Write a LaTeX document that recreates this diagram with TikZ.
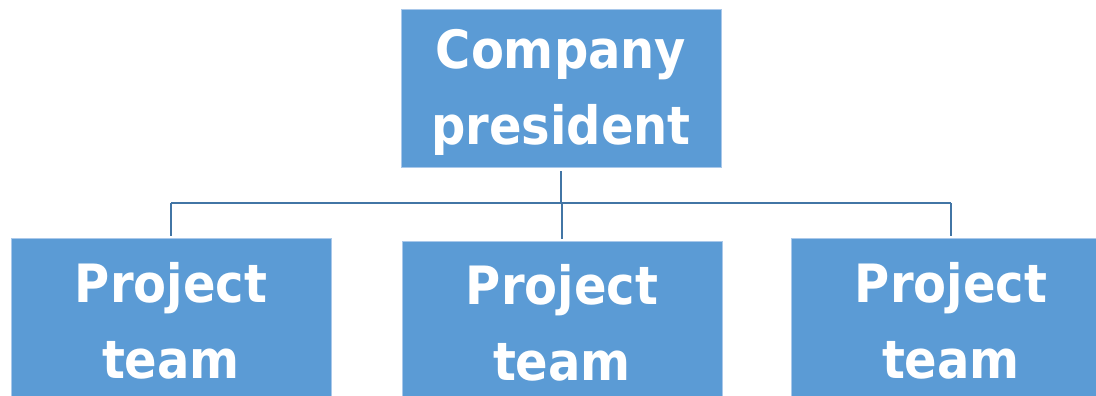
\documentclass[tikz,border=0pt]{standalone}
\usepackage{fontspec}
\setmainfont{DejaVu Sans}
\definecolor{boxblue}{HTML}{5B9BD5}
\definecolor{boxedge}{HTML}{A9C8EA}
\definecolor{linkblue}{HTML}{4275A5}
% slightly taller lettering
\newcommand\tallline[1]{\scalebox{1}[1.1]{#1}}
\tikzset{
  orgbox/.style={rectangle, fill=boxblue, draw=boxedge, line width=0.8pt,
    minimum width=320pt, inner sep=0pt},
  orgtext/.style={align=center, text=white, inner sep=0pt, yshift=-4pt,
    font=\fontsize{48}{76}\selectfont\bfseries},
  link/.style={draw=linkblue, line width=2.2pt}
}
\begin{document}
\begin{tikzpicture}[x=1pt,y=1pt]
  \useasboundingbox (0,0) rectangle (1096,-396);
  \clip (0,0) rectangle (1096,-396);
  % boxes with their captions
  \node[orgbox, minimum height=158pt,
    label={[orgtext]center:\tallline{Company}\\\tallline{president}}]
    (pres) at (561,-88) {};
  \node[orgbox, minimum height=158pt,
    label={[orgtext]center:\tallline{Project}\\\tallline{team}}]
    (teamL) at (171,-317) {};
  \node[orgbox, minimum height=155pt,
    label={[orgtext]center:\tallline{Project}\\\tallline{team}}]
    (teamM) at (562,-318.5) {};
  \node[orgbox, minimum height=158pt,
    label={[orgtext]center:\tallline{Project}\\\tallline{team}}]
    (teamR) at (951,-317) {};
  % bus line
  \coordinate (bus) at (561,-203);
  \draw[link] ([yshift=-4pt]pres.south) -- (pres.south |- bus);
  \draw[link] (teamL.north |- bus) -- (teamR.north |- bus);
  \draw[link] (teamL.north |- bus) -- ([yshift=2pt]teamL.north);
  \draw[link] (teamM.north |- bus) -- ([yshift=2pt]teamM.north);
  \draw[link] (teamR.north |- bus) -- ([yshift=2pt]teamR.north);
\end{tikzpicture}
\end{document}
